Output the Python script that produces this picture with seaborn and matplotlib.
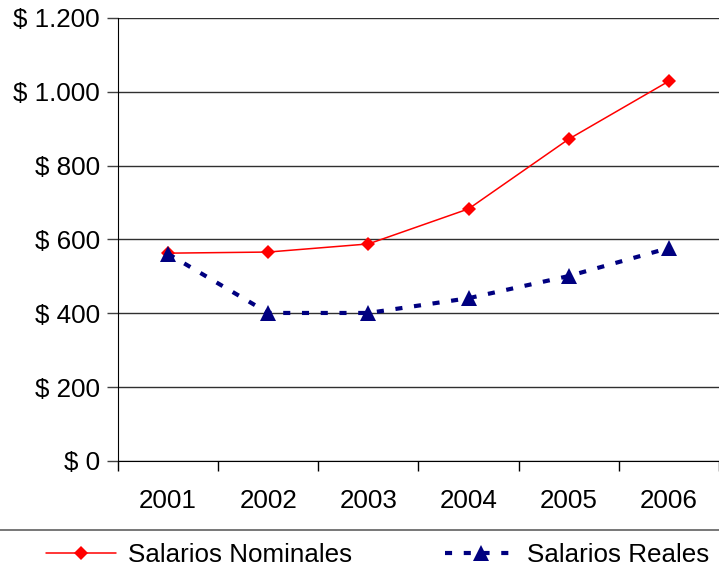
import matplotlib
matplotlib.use("Agg")
import matplotlib.pyplot as plt
import seaborn as sns
import pandas as pd
from matplotlib.ticker import FuncFormatter, FixedLocator
from matplotlib.lines import Line2D

# Data
years = ["2001", "2002", "2003", "2004", "2005", "2006"]
nominales = [563, 566, 588, 683, 872, 1029]
reales = [561, 401, 401, 441, 501, 577]

df_nom = pd.DataFrame({"Año": years, "Valor": nominales})
df_real = pd.DataFrame({"Año": years, "Valor": reales})

sns.set_style("white")
plt.rcParams["font.family"] = ["Liberation Sans", "DejaVu Sans"]
plt.rcParams["text.color"] = "black"
plt.rcParams["xtick.color"] = "black"
plt.rcParams["ytick.color"] = "black"
plt.rcParams["xtick.labelcolor"] = "black"
plt.rcParams["ytick.labelcolor"] = "black"

fig = plt.figure(figsize=(7.19, 5.73), dpi=100)
ax = fig.add_axes([118 / 719, 1 - 461 / 573, 601 / 719, 443 / 573])

sns.lineplot(data=df_nom, x="Año", y="Valor", ax=ax, color="#FF0000",
             linewidth=1.1, marker="D", markersize=7.5, markeredgewidth=0,
             label="Salarios Nominales")
sns.lineplot(data=df_real, x="Año", y="Valor", ax=ax, color="#000080",
             linewidth=3, marker="^", markersize=12, markeredgewidth=0,
             dashes=(1.7, 2.8), label="Salarios Reales")

ax.set_ylim(0, 1200)
ax.set_xlim(-0.5, 5.5)
ax.set_yticks([0, 200, 400, 600, 800, 1000, 1200])
ax.yaxis.set_major_formatter(
    FuncFormatter(lambda v, p: "$ " + f"{int(v):,}".replace(",", ".")))
ax.yaxis.grid(True, color="#303030", linewidth=1)
ax.set_axisbelow(True)

# category boundary ticks on the x axis
ax.xaxis.set_minor_locator(FixedLocator([i - 0.5 for i in range(7)]))
ax.tick_params(axis="x", which="major", length=0, pad=20, labelsize=18.7)
ax.tick_params(axis="x", which="minor", length=7, width=1, color="black",
               direction="out", bottom=True)
ax.tick_params(axis="y", length=8, width=1, color="#404040", pad=5,
               labelsize=18.7, left=True, direction="out")

for s in ["top", "right"]:
    ax.spines[s].set_visible(False)
ax.spines["left"].set_color("black")
ax.spines["bottom"].set_color("black")
ax.set_xlabel("")
ax.set_ylabel("")

ax.get_legend().remove()
handles, labels = ax.get_legend_handles_labels()
fig.legend(handles, labels, loc="center left", bbox_to_anchor=(46 / 719, 1 - 555 / 573),
           ncol=2, frameon=False, fontsize=18.7, handlelength=2.7,
           handletextpad=0.45, columnspacing=3.6, borderpad=0, borderaxespad=0)

# separator line above the legend
fig.add_artist(Line2D([0, 1], [1 - 530 / 573] * 2, color="#606060", linewidth=1.2,
                      transform=fig.transFigure))

fig.savefig("out.png", dpi=100)
